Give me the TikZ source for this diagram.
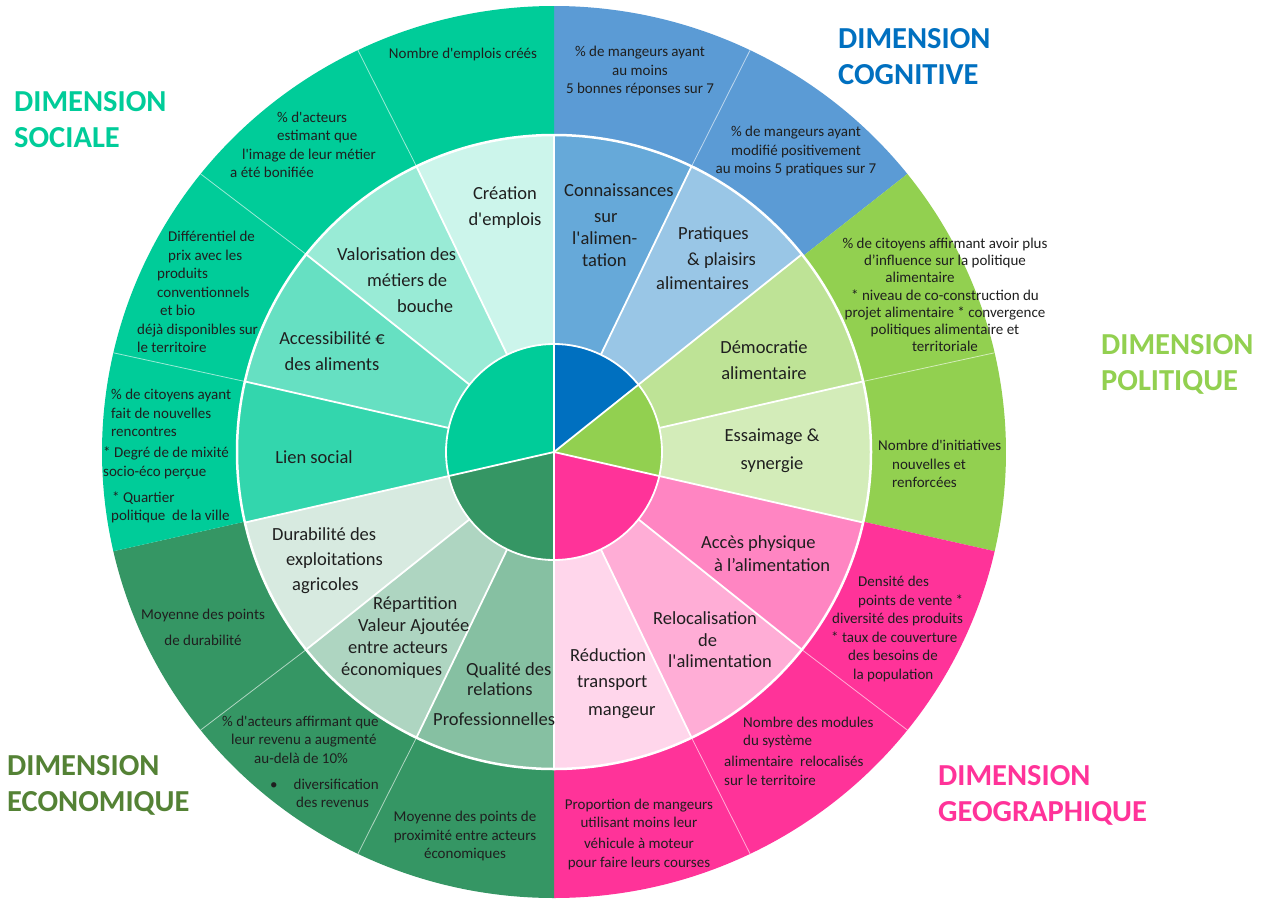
\documentclass[tikz,border=0pt]{standalone}
\usepackage{fontspec}
\newfontfamily\chartfont{Carlito}
\definecolor{dimsoc}{RGB}{0,204,153}
\definecolor{dimeco}{RGB}{53,150,100}
\definecolor{dimgeo}{RGB}{255,51,153}
\definecolor{dimpol}{RGB}{146,208,80}
\definecolor{dimcog}{RGB}{0,112,192}
\definecolor{dimcogo}{RGB}{91,155,213}
\definecolor{dimecot}{RGB}{84,130,53}
\usepackage{tikz}

\begin{document}
\begin{tikzpicture}[x=1pt, y=-1pt,
  outer/.style={font=\chartfont\fontsize{15}{18.5}\selectfont, text=black!88, inner sep=0pt},
  middle/.style={font=\chartfont\fontsize{18.5}{26}\selectfont, text=black!88, inner sep=0pt},
  dimtitle/.style={font=\chartfont\bfseries\fontsize{30.5}{36}\selectfont, align=left, anchor=west, inner sep=0pt},
  sepline/.style={white, line width=1.8pt},
  thinsep/.style={white, opacity=0.6, line width=0.8pt}]
\useasboundingbox (0,0) rectangle (1270,900);
\fill[white] (0,0) rectangle (1270,900);

\begin{scope}[shift={(554,452)}]
\foreach \a/\b/\col in {-90/-38.571/dimcogo, -38.571/12.857/dimpol, 12.857/90/dimgeo, 90/167.143/dimeco, 167.143/270/dimsoc}
  \fill[\col] (0,0) -- (\a:452 and 446) arc[start angle=\a, end angle=\b, x radius=452, y radius=446] -- cycle;
\foreach \k in {1,3,5,6,8,9,11,12,13}
  \draw[thinsep] ({-90+\k*360/14}:317) -- ({-90+\k*360/14}:452 and 446);
\end{scope}

\node[outer] (emplois) at (463,54) {Nombre d'emplois créés};
\node[outer, align=left, anchor=west] (image) at (230,145) {\hspace*{47pt}\% d'acteurs\\\hspace*{47pt}estimant que\\\hspace*{12pt}l'image de leur métier\\a été bonifiée};
\node[outer, align=left, anchor=west] (prix) at (137,292) {\hspace*{31pt}Différentiel de\\\hspace*{31pt}prix avec les\\\hspace*{20pt}produits\\\hspace*{20pt}conventionnels\\\hspace*{23pt}et bio\\déjà disponibles sur\\le territoire};
\node[outer, align=left, anchor=west] (rencontres) at (103,456) {\hspace*{8pt}\% de citoyens ayant\\\hspace*{8pt}fait de nouvelles\\\hspace*{8pt}rencontres\\[2.5pt]* Degré de de mixité\\socio-éco perçue\\[7.5pt]\hspace*{9pt}* Quartier\\\hspace*{8pt}politique\ \ de la ville};
\node[outer, align=center] (durabilite) at (203,627) {Moyenne des points\\[7.5pt]de durabilité};
\node[outer, align=left, anchor=west] (revenu) at (222,762) {\% d'acteurs affirmant que\\\hspace*{9pt}leur revenu a augmenté\\\hspace*{32pt}au-delà de 10\%\\[7.5pt]\hspace*{48pt}\textbullet\hspace*{16pt}diversification\\\hspace*{74pt}des revenus};
\node[outer, align=center] (proximite) at (465,836) {Moyenne des points de\\proximité entre acteurs\\économiques};
\node[outer, align=center] (vehicule) at (639,834) {Proportion de mangeurs\\utilisant moins leur\\[2.5pt]véhicule à moteur\\pour faire leurs courses};
\node[outer, align=left, anchor=west] (modules) at (724,751) {\hspace*{19pt}Nombre des modules\\\hspace*{19pt}du système\\[2.5pt]alimentaire\ \ relocalisés\\sur le territoire};
\node[outer, align=left, anchor=west] (densite) at (831,629) {\hspace*{27pt}Densité des\\\hspace*{27pt}points de vente *\\\hspace*{1pt}diversité des produits\\* taux de couverture\\\hspace*{17pt}des besoins de\\\hspace*{22pt}la population};
\node[outer, align=left, anchor=west] (initiatives) at (878,464) {Nombre d'initiatives\\\hspace*{14pt}nouvelles et\\\hspace*{14pt}renforcées};
\node[outer, align=center, font=\chartfont\fontsize{15}{17.2}\selectfont] (influence) at (945,295) {\% de citoyens affirmant avoir plus\\d’influence sur la politique\\alimentaire\kern50pt\\* niveau de co-construction du\\projet alimentaire * convergence\\politiques alimentaire et\\territoriale};
\node[outer, align=center] (reponses) at (640,71) {\% de mangeurs ayant\\au moins\\5 bonnes réponses sur 7};
\node[outer, align=center] (modifie) at (796,151) {\% de mangeurs ayant\\modifié positivement\\au moins 5 pratiques sur 7};

\begin{scope}[shift={(554,452)}]
\foreach \col [count=\k from 0] in {dimcog!60, dimcog!40, dimpol!60, dimpol!40, dimgeo!60, dimgeo!40, dimgeo!20, dimeco!60, dimeco!40, dimeco!20, dimsoc!80, dimsoc!60, dimsoc!40, dimsoc!20}
  \fill[\col] (0,0) -- ({-90+\k*360/14}:317) arc[start angle={-90+\k*360/14}, end angle={-90+(\k+1)*360/14}, radius=317] -- cycle;
\foreach \a/\b/\col in {-90/-38.571/dimcog, -38.571/12.857/dimpol, 12.857/90/dimgeo, 90/167.143/dimeco, 167.143/270/dimsoc}
  \fill[\col] (0,0) -- (\a:108) arc[start angle=\a, end angle=\b, radius=108] -- cycle;
\foreach \k in {0,...,13}
  \draw[sepline] ({-90+\k*360/14}:108) -- ({-90+\k*360/14}:317);
\foreach \k in {0,2,4,7,10}
  \draw[sepline] (0,0) -- ({-90+\k*360/14}:108);
\draw[sepline, line width=2.5pt] (0,0) circle[radius=317];
\draw[sepline] (0,0) circle[radius=108];
\end{scope}

\node[middle, align=center] (creation) at (505,208) {Création\\d'emplois};
\node[middle, align=left, anchor=west] (valorisation) at (337,280) {Valorisation des\\\hspace*{30pt}métiers de\\\hspace*{60pt}bouche};
\node[middle, align=center] (accessibilite) at (332,351) {Accessibilité €\\des aliments};
\node[middle] (lien) at (314,457) {Lien social};
\node[middle, align=left, anchor=west] (exploitations) at (272,561) {Durabilité des\\[-1pt]\hspace*{14pt}exploitations\\[-1pt]\hspace*{20pt}agricoles};
\node[middle, align=left, anchor=west] (repartition) at (341,638) {\hspace*{32pt}Répartition\\[-4pt]\hspace*{17pt}Valeur Ajoutée\\[-4pt]\hspace*{7pt}entre acteurs\\[-4pt]économiques};
\node[middle, align=left, anchor=west] (relations) at (433,694) {\hspace*{33pt}Qualité des\\[-6pt]\hspace*{34pt}relations\\[4pt]Professionnelles};
\node[middle, align=left, anchor=west] (reduction) at (570,684) {Réduction\\\hspace*{7pt}transport\\[2pt]\hspace*{18pt}mangeur};
\node[middle, align=left, anchor=west] (relocalisation) at (653,640) {Relocalisation\\[-4.5pt]\hspace*{45pt}de\\[-4.5pt]\hspace*{15pt}l'alimentation};
\node[middle, align=left, anchor=west] (acces) at (701,554) {Accès physique\\[-3pt]\hspace*{13pt}à l’alimentation};
\node[middle, align=center] (essaimage) at (772,451) {Essaimage \&\\[2pt]synergie};
\node[middle, align=center] (democratie) at (764,360) {Démocratie\\alimentaire};
\node[middle, align=left, anchor=west] (plaisirs) at (656,258) {\hspace*{22pt}Pratiques\\\hspace*{31pt}\& plaisirs\\[-2pt]alimentaires};
\node[middle, align=left, anchor=west] (connaissances) at (564,225) {Connaissances\\\hspace*{30pt}sur\\[-4pt]\hspace*{8pt}l'alimen-\\[-4pt]\hspace*{18pt}tation};

\node[dimtitle, text=dimsoc] (soctitle) at (14,120) {DIMENSION\\SOCIALE};
\node[dimtitle, text=dimcog] (cogtitle) at (838,57) {DIMENSION\\COGNITIVE};
\node[dimtitle, text=dimpol] (poltitle) at (1101,364) {DIMENSION\\POLITIQUE};
\node[dimtitle, text=dimgeo] (geotitle) at (938,795) {DIMENSION\\GEOGRAPHIQUE};
\node[dimtitle, text=dimecot] (ecotitle) at (7,785) {DIMENSION\\ECONOMIQUE};
\end{tikzpicture}
\end{document}
